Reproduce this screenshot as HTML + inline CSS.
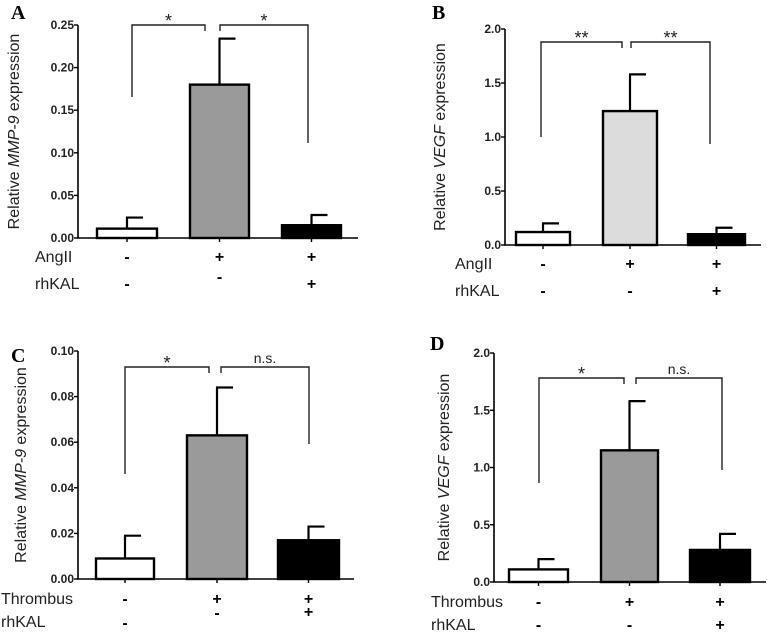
<!DOCTYPE html>
<html><head><meta charset="utf-8"><style>
body{margin:0;background:#fff}
svg{display:block}
text{font-family:"Liberation Sans",Arial,sans-serif}
text.letter{font-family:"Liberation Serif",serif}
</style></head><body>
<svg id="fig" width="767" height="632" viewBox="0 0 767 632"></svg>
<script>
// Panel data
const groupsA = ["ctrl","AngII","AngII+rhKAL"];
const valuesA = [0.011, 0.18, 0.015];
const errorsA = [0.024, 0.234, 0.027];
const ticksA = ["0.00","0.05","0.10","0.15","0.20","0.25"];
const valuesB = [0.12, 1.24, 0.10];
const errorsB = [0.20, 1.58, 0.16];
const ticksB = ["0.0","0.5","1.0","1.5","2.0"];
const valuesC = [0.009, 0.063, 0.017];
const errorsC = [0.019, 0.084, 0.023];
const ticksC = ["0.00","0.02","0.04","0.06","0.08","0.10"];
const valuesD = [0.11, 1.15, 0.28];
const errorsD = [0.20, 1.58, 0.42];
const ticksD = ["0.0","0.5","1.0","1.5","2.0"];
const sigA = ["*","*"], sigB = ["**","**"], sigC = ["*","n.s."], sigD = ["*","n.s."];

const NS="http://www.w3.org/2000/svg";
const svg=document.getElementById('fig');
function mk(tag,attrs,parent,txt){const e=document.createElementNS(NS,tag);for(const k in attrs)e.setAttribute(k,attrs[k]);if(txt!==undefined)e.textContent=txt;(parent||svg).appendChild(e);return e;}

function panel(cfg){
  const g=mk('g',{});
  
  
  const ymax=parseFloat(cfg.ticks[cfg.ticks.length-1]);
  const y=v=>cfg.y0-(v/ymax)*(cfg.y0-cfg.ytop);
  const L=mk('text',{x:cfg.lx,y:cfg.ly,'class':'letter','font-weight':'bold','font-size':20},g,cfg.letter);
  
  
  const ax=mk('path',{d:`M${cfg.ax},${cfg.ytop}V${cfg.y0}H${cfg.xend}`,stroke:'#000','stroke-width':1.6,fill:'none'},g);
  
  
  cfg.ticks.forEach(t=>{
    const v=parseFloat(t),yy=y(v);
    mk('line',{x1:cfg.ax-4,x2:cfg.ax,y1:yy,y2:yy,stroke:'#000','stroke-width':1.4},g);
    const tl=mk('text',{x:cfg.ax-4,y:yy+4,'text-anchor':'end','font-size':12,'font-weight':'bold',fill:'#222'},g,t);
    
    
  });
  const yt=mk('text',{transform:`translate(${cfg.tx},${(cfg.ytop+cfg.y0)/2}) rotate(-90)`,'text-anchor':'middle','font-size':16,fill:'#222'},g);
  
  
  mk('tspan',{},yt,'Relative ');
  mk('tspan',{'font-style':'italic'},yt,cfg.gene);
  mk('tspan',{},yt,' expression');
  cfg.values.forEach((v,i)=>{
    const x0=cfg.bars[i][0],x1=cfg.bars[i][1],c=(x0+x1)/2;
    const ye=y(cfg.errors[i]);
    const eb=mk('path',{d:`M${c},${y(v)}V${ye}M${c-1},${ye}H${c+16}`,stroke:'#000','stroke-width':2.2,fill:'none'},g);
    
    
    const r=mk('rect',{x:x0,y:y(v),width:x1-x0,height:cfg.y0-y(v),fill:cfg.fills[i],stroke:'#000','stroke-width':2.4},g);
    
    
    mk('line',{x1:c,x2:c,y1:cfg.y0,y2:cfg.y0+4,stroke:'#000','stroke-width':1.4},g);
    const s1=mk('text',{x:c,y:cfg.r1,'text-anchor':'middle','font-size':16,'font-weight':'bold'},g,cfg.row1[i]);
    
    
    const s2=mk('text',{x:c,y:cfg.r2[i],'text-anchor':'middle','font-size':16,'font-weight':'bold'},g,cfg.row2[i]);
    
    
  });
  const l1=mk('text',{x:cfg.rlx,y:cfg.r1,'font-size':16,fill:'#222'},g,cfg.rowName);
  
  
  const l2=mk('text',{x:cfg.rlx,y:cfg.r2l,'font-size':16,fill:'#222'},g,'rhKAL');
  
  
  const b=cfg.br;
  const bl=mk('path',{d:`M${b.l[0]},${b.l[2]}V${b.y}H${b.l[1]}V${b.y+6}`,stroke:'#222','stroke-width':1.4,fill:'none'},g);
  
  
  const brr=mk('path',{d:`M${b.r[0]},${b.y+6}V${b.y}H${b.r[1]}V${b.r[2]}`,stroke:'#222','stroke-width':1.4,fill:'none'},g);
  
  
  [[cfg.sig[0],(b.l[0]+b.l[1])/2],[cfg.sig[1],(b.r[0]+b.r[1])/2]].forEach(([s,x])=>{
    const isStar=s.indexOf('*')>=0;
    const t=mk('text',{x:x,y:isStar?b.y+2:b.y-4,'text-anchor':'middle','font-size':isStar?18:14,fill:'#222'},g,s);
    
    
  });
}

panel({letter:'A',lx:11,ly:19,ax:78,ytop:25,y0:238,xend:358,ticks:ticksA,values:valuesA,errors:errorsA,
  bars:[[97,157],[190,249],[282,341]],fills:['#fff','#9a9a9a','#000'],gene:'MMP-9',tx:19,
  rowName:'AngII',rlx:35,r1:262,r2:[289,282,289],r2l:289,row1:['-','+','+'],row2:['-','-','+'],
  br:{y:25,l:[132,205,97],r:[220,308,143]},sig:sigA});
panel({letter:'B',lx:432,ly:19,ax:505,ytop:29,y0:245,xend:761,ticks:ticksB,values:valuesB,errors:errorsB,
  bars:[[516,570],[603,657],[688,745]],fills:['#fff','#dcdcdc','#000'],gene:'VEGF',tx:445,
  rowName:'AngII',rlx:455,r1:269,r2:[296,296,296],r2l:296,row1:['-','+','+'],row2:['-','-','+'],
  br:{y:42,l:[541,622,137],r:[631,710,144]},sig:sigB});
panel({letter:'C',lx:11,ly:362,ax:78,ytop:351,y0:579,xend:354,ticks:ticksC,values:valuesC,errors:errorsC,
  bars:[[96,154],[187,247],[278,339]],fills:['#fff','#9a9a9a','#000'],gene:'MMP-9',tx:26,
  rowName:'Thrombus',rlx:1,r1:604,r2:[628,618,617],r2l:627,row1:['-','+','+'],row2:['-','-','+'],
  br:{y:367,l:[125,209,474],r:[221,309,444]},sig:sigC});
panel({letter:'D',lx:430,ly:350,ax:494,ytop:353,y0:582,xend:766,ticks:ticksD,values:valuesD,errors:errorsD,
  bars:[[509,568],[601,658],[690,750]],fills:['#fff','#9a9a9a','#000'],gene:'VEGF',tx:449,
  rowName:'Thrombus',rlx:431,r1:607,r2:[630,630,630],r2l:630,row1:['-','+','+'],row2:['-','-','+'],
  br:{y:378,l:[539,624,483],r:[636,722,470]},sig:sigD});
</script>
</body></html>
